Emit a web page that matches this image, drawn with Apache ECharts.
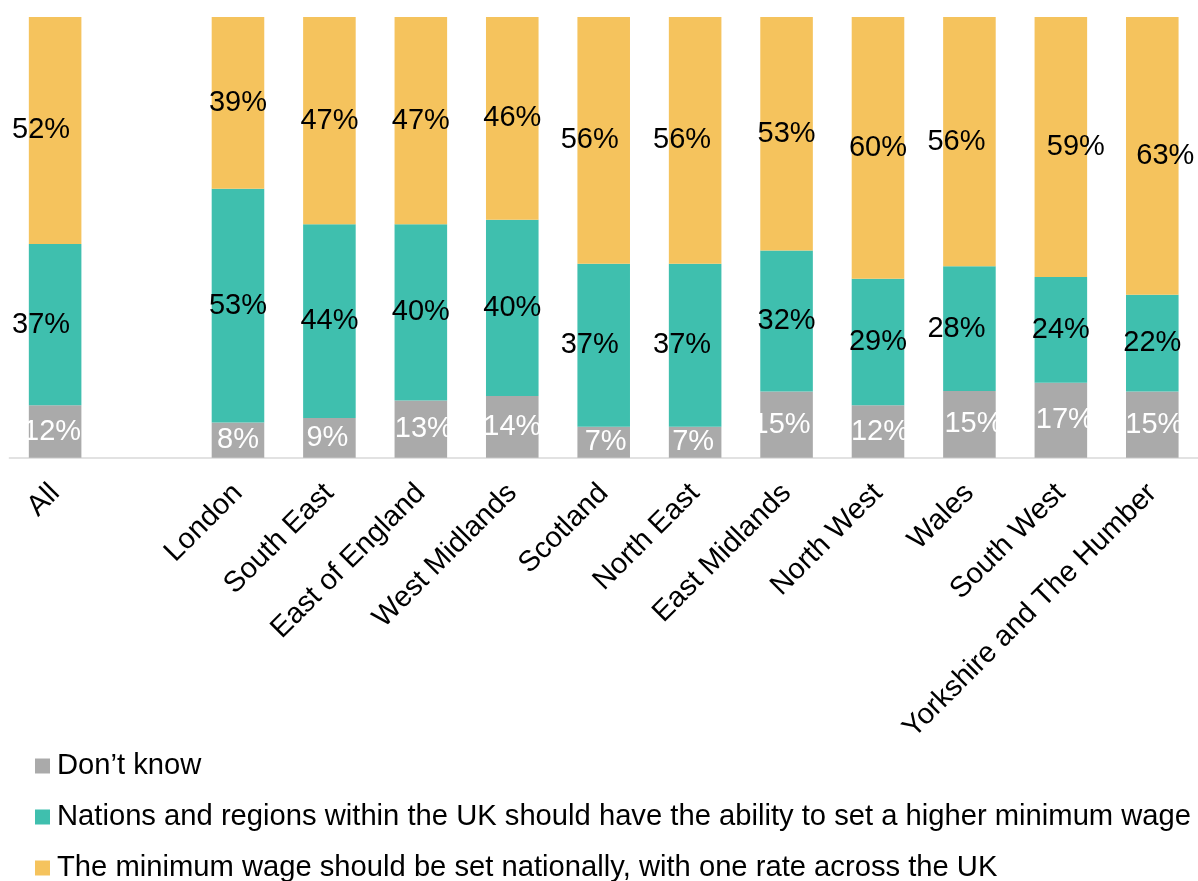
<!DOCTYPE html>
<html>
<head>
<meta charset="utf-8">
<script src="https://cdn.jsdelivr.net/npm/echarts@6/dist/echarts.min.js"></script>
<style>
html,body{margin:0;padding:0;background:#fff;}
#chart{width:1198px;height:881px;}
</style>
</head>
<body>
<div id="chart"></div>
<script>
// ---- data ----
var categories = ['All', '', 'London', 'South East', 'East of England', 'West Midlands', 'Scotland', 'North East', 'East Midlands', 'North West', 'Wales', 'South West', 'Yorkshire and The Humber'];
var seriesNames = ['Don\u2019t know', 'Nations and regions within the UK should have the ability to set a higher minimum wage', 'The minimum wage should be set nationally, with one rate across the UK'];
var dontKnow = [12, null, 8, 9, 13, 14, 7, 7, 15, 12, 15, 17, 15];
var regional = [37, null, 53, 44, 40, 40, 37, 37, 32, 29, 28, 24, 22];
var national = [52, null, 39, 47, 47, 46, 56, 56, 53, 60, 56, 59, 63];

// ---- styles (label horizontal shifts, px) ----
var shiftGray = [-3, 0, 0, -2, 3, 0, 2, -2, -5, 2, 4, 4, 2];
var shiftTeal = [-14, 0, 0, 0, 0, 0, -14, -13, 0, 0, -13, 0, 0];
var shiftYellow = [-14, 0, 0, 0, 0, 0, -14, -13, 0, 0, -13, 15, 13];
var colors = ['#aaaaaa', '#3fbfae', '#f5c35d'];
var FONT = '"Liberation Sans", Arial, sans-serif';

function totals(i) {
  var t = 0;
  [dontKnow, regional, national].forEach(function (a) { if (a[i] != null) t += a[i]; });
  return t;
}
function build(arr, shifts) {
  return arr.map(function (v, i) {
    if (v == null) return '-';
    return {
      value: v / totals(i) * 100,
      raw: v,
      label: { offset: [shifts[i], 0] }
    };
  });
}
function makeSeries(name, arr, shifts, color, labelColor) {
  return {
    name: name,
    type: 'bar',
    stack: 'total',
    barWidth: '57.5%',
    itemStyle: { color: color },
    label: {
      show: true,
      position: 'inside',
      color: labelColor,
      fontSize: 29,
      fontFamily: FONT,
      formatter: function (p) { return p.data.raw + '%'; }
    },
    data: build(arr, shifts)
  };
}

var chart = echarts.init(document.getElementById('chart'), null, { renderer: 'canvas' });
chart.setOption({
  animation: false,
  backgroundColor: '#ffffff',
  grid: { left: 9.4, right: -10.6, top: 17, bottom: 423.3, containLabel: false },
  xAxis: {
    type: 'category',
    data: categories,
    axisLine: { show: true, lineStyle: { color: '#d9d9d9', width: 1.5 } },
    axisTick: { show: false },
    axisLabel: {
      interval: 0,
      rotate: 45,
      margin: 31,
      color: '#000',
      fontSize: 29,
      fontFamily: FONT
    }
  },
  yAxis: {
    type: 'value',
    min: 0,
    max: 100,
    show: false,
    splitLine: { show: false }
  },
  legend: {
    type: 'plain',
    orient: 'vertical',
    left: 35,
    top: 751.5,
    height: 300,
    padding: 0,
    itemWidth: 15,
    itemHeight: 15,
    itemGap: 22,
    icon: 'rect',
    textStyle: { fontSize: 29.2, color: '#000', fontFamily: FONT, padding: [0, 0, 0, 2] },
    data: seriesNames
  },
  series: [
    makeSeries(seriesNames[0], dontKnow, shiftGray, colors[0], '#ffffff'),
    makeSeries(seriesNames[1], regional, shiftTeal, colors[1], '#000000'),
    makeSeries(seriesNames[2], national, shiftYellow, colors[2], '#000000')
  ]
});
</script>
</body>
</html>
